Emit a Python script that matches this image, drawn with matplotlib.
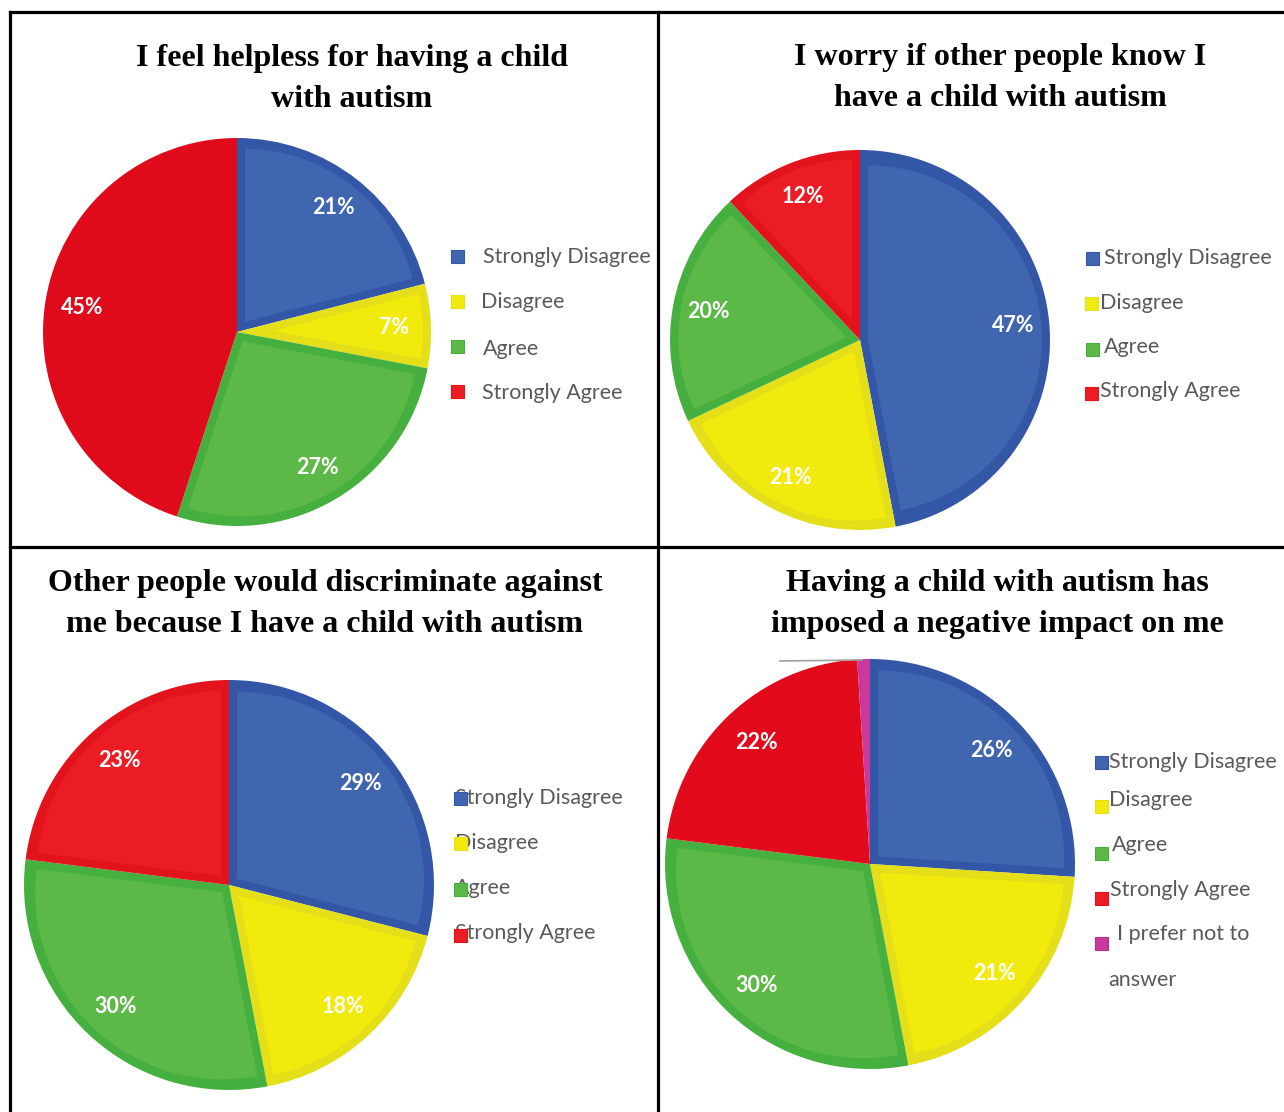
import numpy as np
import matplotlib
matplotlib.use("Agg")
import matplotlib.pyplot as plt
from matplotlib.patches import Rectangle, Wedge
from matplotlib.lines import Line2D

W, H = 1284, 1112

# ---------------- data ----------------
titles = [
    "I feel helpless for having a child\nwith autism",
    "I worry if other people know I\nhave a child with autism",
    "Other people would discriminate against\nme because I have a child with autism",
    "Having a child with autism has\nimposed a negative impact on me",
]
categories4 = ["Strongly Disagree", "Disagree", "Agree", "Strongly Agree"]
categories5 = ["Strongly Disagree", "Disagree", "Agree", "Strongly Agree",
               "I prefer not to\nanswer"]
helpless = [21, 7, 27, 45]
worry = [47, 21, 20, 12]
discriminate = [29, 18, 30, 23]
negative_impact = [26, 21, 30, 22, 1]

# ---------------- style ----------------
fill_colors = {
    "Strongly Disagree": "#4066b0",
    "Disagree": "#f2ea0c",
    "Agree": "#5cb847",
    "Strongly Agree": "#eb1c24",
    "I prefer not to\nanswer": "#c8399b",
}
edge_colors = {
    "Strongly Disagree": "#3357a6",
    "Disagree": "#e4df18",
    "Agree": "#45b040",
    "Strongly Agree": "#e2131d",
    "I prefer not to\nanswer": "#b52e8a",
}
legend_text_color = "#595959"
title_font = "Liberation Serif"
body_font = "Lato"

fig = plt.figure(figsize=(W / 100, H / 100), dpi=100)

# overlay axes in pixel coordinates
ov = fig.add_axes([0, 0, 1, 1])
ov.set_xlim(0, W)
ov.set_ylim(H, 0)
ov.axis("off")
ov.set_zorder(5)
ov.patch.set_alpha(0)

# grid lines (table borders)
for (x0, y0, x1, y1) in [(10, 12, 10, H), (658, 12, 658, H),
                         (10, 12, W, 12), (10, 547, W, 547)]:
    ov.add_line(Line2D([x0, x1], [y0, y1], color="black", lw=2.3,
                       solid_capstyle="projecting"))


def draw_pie(values, cats, cx, cy, r, red=None, band_px=8):
    ax = fig.add_axes([(cx - r) / W, 1 - (cy + r) / H, 2 * r / W, 2 * r / H])
    fills = [fill_colors[c] for c in cats]
    edges = [edge_colors[c] for c in cats]
    if red is not None:
        fills[3] = red
        edges[3] = red
    wedges, _, autotexts = ax.pie(
        values, colors=edges, startangle=90, counterclock=False,
        autopct=lambda p: f"{p:.0f}%" if p >= 2 else "",
        pctdistance=0.81,
        textprops=dict(color="white", fontsize=15.5, fontweight="bold",
                       family=body_font),
        wedgeprops=dict(linewidth=0),
    )
    # inner lighter face -> bevelled band look
    d = band_px / r
    for w, fc in zip(wedges, fills):
        t1, t2 = w.theta1, w.theta2
        alpha = np.radians(t2 - t1) / 2
        if np.sin(alpha) * w.r < 4 * d:
            w.set_facecolor(fc)
            continue
        phi = np.radians(t1 + t2) / 2
        s = d / np.sin(alpha)
        c0 = (w.center[0] + s * np.cos(phi), w.center[1] + s * np.sin(phi))
        inner = Wedge(c0, w.r - s - d, t1, t2, facecolor=fc, lw=0,
                      zorder=w.get_zorder() + 0.1)
        ax.add_patch(inner)
    for t in autotexts:
        t.set_zorder(4)
    ax.set_xlim(-1, 1)
    ax.set_ylim(-1, 1)
    ax.axis("off")
    return ax


draw_pie(helpless, categories4, 237, 332, 194, red="#e00b1a")
draw_pie(worry, categories4, 860, 340, 190)
draw_pie(discriminate, categories4, 229, 885, 205)
draw_pie(negative_impact, categories5, 870, 864, 205, red="#e10b1b")

# leader-line artifact in the last chart
ov.add_line(Line2D([780, 862], [661, 660], color="#a0a0a0", lw=1.2))

# titles
title_pos = [(352, 79), (1000, 78), (325, 604), (997, 604)]
for t, (x, y) in zip(titles, title_pos):
    ov.text(x, y, t, ha="center", va="center", family=title_font,
            fontweight="bold", fontsize=23, linespacing=1.58, color="black",
            multialignment="center")


def legend(cats, text_pos, marker_pos, size=13):
    for c, (tx, ty), (mx, my) in zip(cats, text_pos, marker_pos):
        ov.text(tx, ty, c, ha="left", va="center", family=body_font,
                fontsize=15.5, color=legend_text_color)
        ov.add_patch(Rectangle((mx - size / 2, my - size / 2), size, size,
                               facecolor=fill_colors[c],
                               edgecolor=edge_colors[c], lw=0.8, zorder=6))


legend(categories4,
       [(483, 257), (481, 302), (483, 349), (482, 393)],
       [(457, 256), (457, 301), (457, 346), (457, 391)])
legend(categories4,
       [(1104, 258), (1100, 303), (1104, 347), (1100, 391)],
       [(1092, 258), (1091, 303), (1092, 349), (1091, 393)])
legend(categories4,
       [(455, 798), (455, 843), (455, 888), (455, 933)],
       [(460, 798), (460, 843), (460, 889), (460, 935)])
legend(categories5[:4],
       [(1109, 762), (1109, 800), (1112, 845), (1110, 890)],
       [(1101, 762), (1101, 806), (1101, 853), (1101, 898)])
# last entry with a two-line label
ov.text(1117, 934, "I prefer not to", ha="left", va="center",
        family=body_font, fontsize=15.5, color=legend_text_color)
ov.text(1108, 980, "answer", ha="left", va="center",
        family=body_font, fontsize=15.5, color=legend_text_color)
ov.add_patch(Rectangle((1101 - 6.5, 943 - 6.5), 13, 13,
                       facecolor=fill_colors[categories5[4]],
                       edgecolor=edge_colors[categories5[4]], lw=0.8, zorder=6))

fig.savefig("out.png", dpi=100, facecolor="white")
